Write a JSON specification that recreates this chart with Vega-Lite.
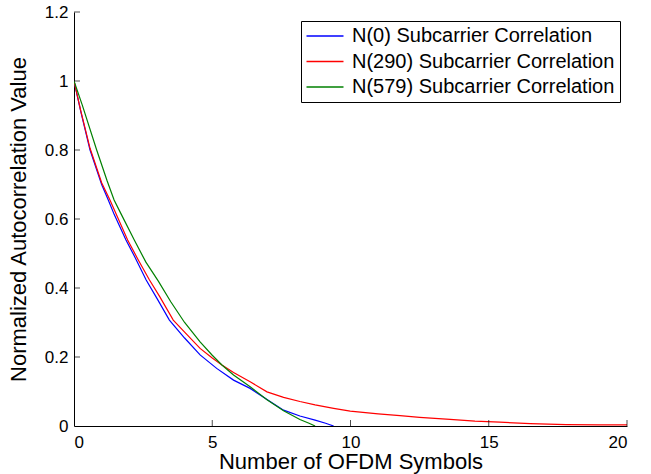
{
  "$schema": "https://vega.github.io/schema/vega-lite/v6.json",
  "width": 553,
  "height": 414,
  "autosize": "none",
  "padding": {"left": 74, "top": 12, "right": 24, "bottom": 48},
  "background": "white",
  "config": {
    "view": {"stroke": null},
    "font": "Liberation Sans",
    "axis": {"grid": false, "domainColor": "black", "tickColor": "black", "labelColor": "black", "titleColor": "black", "labelFont": "Liberation Sans", "titleFont": "Liberation Sans", "titleFontWeight": "normal", "labelFontSize": 17, "titleFontSize": 22, "domainWidth": 1}
  },
  "datasets": {
    "curves": [
      {"x": 0, "y": 1.0, "s": "N(0) Subcarrier Correlation"},
      {"x": 0.25, "y": 0.91, "s": "N(0) Subcarrier Correlation"},
      {"x": 0.58, "y": 0.8, "s": "N(0) Subcarrier Correlation"},
      {"x": 1.0, "y": 0.7, "s": "N(0) Subcarrier Correlation"},
      {"x": 1.24, "y": 0.655, "s": "N(0) Subcarrier Correlation"},
      {"x": 1.46, "y": 0.612, "s": "N(0) Subcarrier Correlation"},
      {"x": 1.88, "y": 0.539, "s": "N(0) Subcarrier Correlation"},
      {"x": 2.2, "y": 0.49, "s": "N(0) Subcarrier Correlation"},
      {"x": 2.61, "y": 0.423, "s": "N(0) Subcarrier Correlation"},
      {"x": 3.0, "y": 0.37, "s": "N(0) Subcarrier Correlation"},
      {"x": 3.45, "y": 0.307, "s": "N(0) Subcarrier Correlation"},
      {"x": 4.0, "y": 0.255, "s": "N(0) Subcarrier Correlation"},
      {"x": 4.56, "y": 0.206, "s": "N(0) Subcarrier Correlation"},
      {"x": 5.16, "y": 0.167, "s": "N(0) Subcarrier Correlation"},
      {"x": 5.77, "y": 0.133, "s": "N(0) Subcarrier Correlation"},
      {"x": 6.37, "y": 0.109, "s": "N(0) Subcarrier Correlation"},
      {"x": 6.98, "y": 0.077, "s": "N(0) Subcarrier Correlation"},
      {"x": 7.58, "y": 0.046, "s": "N(0) Subcarrier Correlation"},
      {"x": 8.17, "y": 0.029, "s": "N(0) Subcarrier Correlation"},
      {"x": 8.72, "y": 0.017, "s": "N(0) Subcarrier Correlation"},
      {"x": 9.1, "y": 0.008, "s": "N(0) Subcarrier Correlation"},
      {"x": 9.39, "y": 0.0, "s": "N(0) Subcarrier Correlation"},
      {"x": 0, "y": 1.0, "s": "N(290) Subcarrier Correlation"},
      {"x": 0.25, "y": 0.912, "s": "N(290) Subcarrier Correlation"},
      {"x": 0.58, "y": 0.805, "s": "N(290) Subcarrier Correlation"},
      {"x": 1.0, "y": 0.705, "s": "N(290) Subcarrier Correlation"},
      {"x": 1.3, "y": 0.655, "s": "N(290) Subcarrier Correlation"},
      {"x": 1.94, "y": 0.539, "s": "N(290) Subcarrier Correlation"},
      {"x": 2.3, "y": 0.485, "s": "N(290) Subcarrier Correlation"},
      {"x": 2.73, "y": 0.423, "s": "N(290) Subcarrier Correlation"},
      {"x": 3.1, "y": 0.375, "s": "N(290) Subcarrier Correlation"},
      {"x": 3.59, "y": 0.307, "s": "N(290) Subcarrier Correlation"},
      {"x": 4.0, "y": 0.272, "s": "N(290) Subcarrier Correlation"},
      {"x": 4.56, "y": 0.225, "s": "N(290) Subcarrier Correlation"},
      {"x": 5.0, "y": 0.197, "s": "N(290) Subcarrier Correlation"},
      {"x": 5.35, "y": 0.177, "s": "N(290) Subcarrier Correlation"},
      {"x": 5.77, "y": 0.155, "s": "N(290) Subcarrier Correlation"},
      {"x": 6.37, "y": 0.128, "s": "N(290) Subcarrier Correlation"},
      {"x": 6.98, "y": 0.099, "s": "N(290) Subcarrier Correlation"},
      {"x": 7.58, "y": 0.083, "s": "N(290) Subcarrier Correlation"},
      {"x": 8.17, "y": 0.071, "s": "N(290) Subcarrier Correlation"},
      {"x": 8.72, "y": 0.061, "s": "N(290) Subcarrier Correlation"},
      {"x": 9.39, "y": 0.051, "s": "N(290) Subcarrier Correlation"},
      {"x": 9.99, "y": 0.043, "s": "N(290) Subcarrier Correlation"},
      {"x": 11.0, "y": 0.035, "s": "N(290) Subcarrier Correlation"},
      {"x": 11.79, "y": 0.03, "s": "N(290) Subcarrier Correlation"},
      {"x": 12.5, "y": 0.025, "s": "N(290) Subcarrier Correlation"},
      {"x": 13.6, "y": 0.019, "s": "N(290) Subcarrier Correlation"},
      {"x": 14.5, "y": 0.014, "s": "N(290) Subcarrier Correlation"},
      {"x": 15.4, "y": 0.011, "s": "N(290) Subcarrier Correlation"},
      {"x": 16.5, "y": 0.007, "s": "N(290) Subcarrier Correlation"},
      {"x": 17.8, "y": 0.004, "s": "N(290) Subcarrier Correlation"},
      {"x": 19.0, "y": 0.003, "s": "N(290) Subcarrier Correlation"},
      {"x": 20.0, "y": 0.003, "s": "N(290) Subcarrier Correlation"},
      {"x": 0, "y": 1.0, "s": "N(579) Subcarrier Correlation"},
      {"x": 0.3, "y": 0.93, "s": "N(579) Subcarrier Correlation"},
      {"x": 0.82, "y": 0.8, "s": "N(579) Subcarrier Correlation"},
      {"x": 1.2, "y": 0.71, "s": "N(579) Subcarrier Correlation"},
      {"x": 1.45, "y": 0.655, "s": "N(579) Subcarrier Correlation"},
      {"x": 1.72, "y": 0.612, "s": "N(579) Subcarrier Correlation"},
      {"x": 2.18, "y": 0.539, "s": "N(579) Subcarrier Correlation"},
      {"x": 2.6, "y": 0.475, "s": "N(579) Subcarrier Correlation"},
      {"x": 3.05, "y": 0.42, "s": "N(579) Subcarrier Correlation"},
      {"x": 3.5, "y": 0.36, "s": "N(579) Subcarrier Correlation"},
      {"x": 4.0, "y": 0.3, "s": "N(579) Subcarrier Correlation"},
      {"x": 4.56, "y": 0.244, "s": "N(579) Subcarrier Correlation"},
      {"x": 5.0, "y": 0.205, "s": "N(579) Subcarrier Correlation"},
      {"x": 5.35, "y": 0.177, "s": "N(579) Subcarrier Correlation"},
      {"x": 5.77, "y": 0.148, "s": "N(579) Subcarrier Correlation"},
      {"x": 6.37, "y": 0.114, "s": "N(579) Subcarrier Correlation"},
      {"x": 6.98, "y": 0.076, "s": "N(579) Subcarrier Correlation"},
      {"x": 7.58, "y": 0.044, "s": "N(579) Subcarrier Correlation"},
      {"x": 8.17, "y": 0.019, "s": "N(579) Subcarrier Correlation"},
      {"x": 8.5, "y": 0.008, "s": "N(579) Subcarrier Correlation"},
      {"x": 8.72, "y": 0.0, "s": "N(579) Subcarrier Correlation"}
    ],
    "xticks": [{"x": 5}, {"x": 10}, {"x": 15}, {"x": 20}],
    "yticks": [{"y": 0.2}, {"y": 0.4}, {"y": 0.6}, {"y": 0.8}, {"y": 1}, {"y": 1.2}]
  },
  "layer": [
    {
      "data": {"name": "curves"},
      "mark": {"type": "line", "strokeWidth": 1.2, "clip": true},
      "encoding": {
        "x": {"field": "x", "type": "quantitative", "title": "Number of OFDM Symbols",
          "scale": {"domain": [0, 20], "nice": false, "zero": false},
          "axis": {"orient": "bottom", "values": [0, 5, 10, 15, 20], "format": "~g", "ticks": false, "labelPadding": 8, "titlePadding": 1}},
        "y": {"field": "y", "type": "quantitative", "title": "Normalized Autocorrelation Value",
          "scale": {"domain": [0, 1.2], "nice": false},
          "axis": {"orient": "left", "values": [0, 0.2, 0.4, 0.6, 0.8, 1, 1.2], "format": "~g", "ticks": false, "labelPadding": 6, "titlePadding": 14}},
        "color": {"field": "s", "type": "nominal", "title": null,
          "scale": {"domain": ["N(0) Subcarrier Correlation", "N(290) Subcarrier Correlation", "N(579) Subcarrier Correlation"], "range": ["#0000ff", "#ff0000", "#008000"]},
          "legend": {"orient": "none", "legendX": 227, "legendY": 9, "symbolType": "M-2,0H2", "symbolSize": 342, "symbolStrokeWidth": 1.3, "symbolOffset": 9, "labelFontSize": 20, "labelFont": "Liberation Sans", "labelColor": "black", "strokeColor": "black", "fillColor": "white", "padding": 5, "rowPadding": 5.5, "labelOffset": 17, "labelLimit": 400,
            "encode": {"symbols": {"update": {"stroke": {"scale": "color", "field": "value"}, "strokeOpacity": {"value": 1}}}}}}
      }
    },
    {
      "data": {"name": "xticks"},
      "mark": {"type": "tick", "orient": "vertical", "size": 6, "thickness": 1, "yOffset": -3, "color": "black"},
      "encoding": {
        "x": {"field": "x", "type": "quantitative"},
        "y": {"datum": 0, "type": "quantitative"}
      }
    },
    {
      "data": {"name": "yticks"},
      "mark": {"type": "tick", "orient": "horizontal", "size": 6, "thickness": 1, "xOffset": 3, "color": "black"},
      "encoding": {
        "y": {"field": "y", "type": "quantitative"},
        "x": {"datum": 0, "type": "quantitative"}
      }
    }
  ]
}
